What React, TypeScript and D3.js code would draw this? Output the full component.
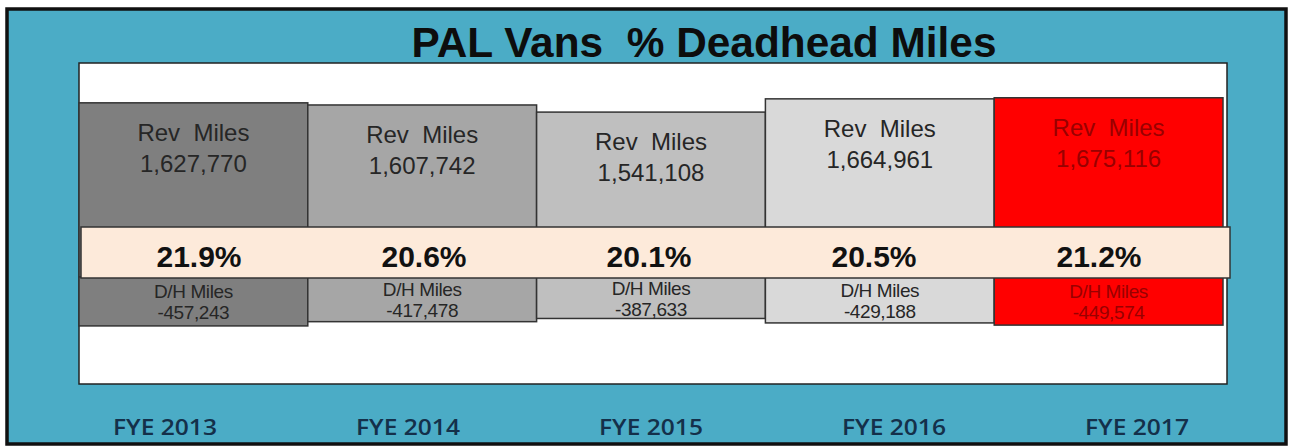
import * as d3 from "d3";

const categories = ["FYE 2013", "FYE 2014", "FYE 2015", "FYE 2016", "FYE 2017"];
const revMiles = [1627770, 1607742, 1541108, 1664961, 1675116];
const dhMiles = [-457243, -417478, -387633, -429188, -449574];
const pctDeadhead = [21.9, 20.6, 20.1, 20.5, 21.2];
const yDomain = [-1000000, 2000000];

const barFill = ["#7f7f7f", "#a6a6a6", "#bfbfbf", "#d9d9d9", "#ff0000"];
const labelFill = ["#262626", "#262626", "#262626", "#262626", "#990000"];

const W = 1289;
const H = 447;
const plot = { left: 79, right: 1227, top: 63, bottom: 384 };
const font = "'Liberation Sans', Arial, sans-serif";

const fmt = (v: number) => d3.format(",")(v).replace("\u2212", "-");

export default function App() {
  const x = d3.scaleBand<string>().domain(categories).range([79, 1223]).padding(0);
  const y = d3.scaleLinear().domain(yDomain).range([plot.bottom, plot.top]);
  const pctX = d3.scalePoint<string>().domain(categories).range([199, 1099]);
  const catX = d3.scalePoint<string>().domain(categories).range([165, 1137]);
  const y0 = y(0);

  return (
    <svg width={W} height={H} style={{ position: "absolute", left: 0, top: 0 }}>
      <rect x={0} y={0} width={W} height={H} fill="#fff" />
      <rect x={7} y={9} width={1279} height={435} fill="#4bacc6" stroke="#111" strokeWidth={3.5} />

      <text x={704} y={57} textAnchor="middle" fontFamily={font} fontWeight="bold" fontSize={43}
        textLength={585} lengthAdjust="spacingAndGlyphs" fill="#0d0d0d" style={{ whiteSpace: "pre" }}>
        PAL Vans  % Deadhead Miles
      </text>

      <rect x={plot.left} y={plot.top} width={plot.right - plot.left} height={plot.bottom - plot.top}
        fill="#fff" stroke="#222" strokeWidth={1.5} />

      {categories.map((c, i) => (
        <g key={c}>
          <rect x={x(c)} y={y(revMiles[i])} width={x.bandwidth()} height={y0 - y(revMiles[i])}
            fill={barFill[i]} stroke="#333" strokeWidth={1.5} />
          <rect x={x(c)} y={y0} width={x.bandwidth()} height={y(dhMiles[i]) - y0}
            fill={barFill[i]} stroke="#333" strokeWidth={1.5} />
        </g>
      ))}

      {categories.map((c, i) => {
        const cx = (x(c) as number) + x.bandwidth() / 2;
        const top = y(revMiles[i]);
        return (
          <g key={c} fontFamily={font} fill={labelFill[i]} textAnchor="middle">
            <text x={cx} y={top + 38} fontSize={24} style={{ whiteSpace: "pre" }}>Rev  Miles</text>
            <text x={cx} y={top + 69} fontSize={24}>{fmt(revMiles[i])}</text>
          </g>
        );
      })}

      <rect x={81} y={y0 - 50} width={1149} height={51} fill="#fdeada" stroke="#333" strokeWidth={1.5} />

      {categories.map((c, i) => (
        <text key={c} x={pctX(c)} y={y0 - 10} textAnchor="middle" fontFamily={font} fontWeight="bold"
          fontSize={30} fill="#111">
          {d3.format(".1f")(pctDeadhead[i])}%
        </text>
      ))}

      {categories.map((c, i) => {
        const cx = (x(c) as number) + x.bandwidth() / 2;
        const mid = (y0 + y(dhMiles[i])) / 2;
        return (
          <g key={c} fontFamily={font} fill={labelFill[i]} textAnchor="middle" fontSize={19} letterSpacing={-0.4}>
            <text x={cx} y={mid - 3}>D/H Miles</text>
            <text x={cx} y={mid + 18}>{fmt(dhMiles[i])}</text>
          </g>
        );
      })}

      {categories.map((c) => (
        <text key={c} x={catX(c)} y={435} textAnchor="middle" fontFamily="'Open Sans', sans-serif"
          fontSize={22} fontWeight={600} textLength={104} lengthAdjust="spacingAndGlyphs" fill="#14304a">
          {c}
        </text>
      ))}
    </svg>
  );
}
